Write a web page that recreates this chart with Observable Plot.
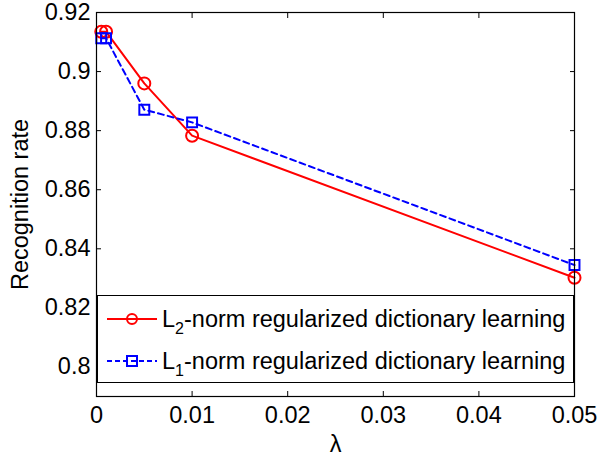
<!DOCTYPE html>
<html>
<head>
<meta charset="utf-8">
<script src="https://cdn.jsdelivr.net/npm/d3@7"></script>
<script src="https://cdn.jsdelivr.net/npm/@observablehq/plot@0.6"></script>
<style>
  html, body { margin: 0; padding: 0; background: #fff; }
  #wrap { position: relative; width: 598px; height: 455px; font-family: "Liberation Sans", Arial, sans-serif; }
  #legend { position: absolute; left: 97px; top: 295px; width: 475px; height: 86px; border: 1.5px solid #000; background: #fff; box-sizing: content-box; }
  .row { position: absolute; left: 0; height: 30px; display: flex; align-items: center; font-size: 23.5px; color: #000; white-space: nowrap; }
  .row svg { margin-left: 9px; margin-right: 5px; }
  .row sub { font-size: 16px; vertical-align: -7px; line-height: 0; }
</style>
</head>
<body>
<div id="wrap"></div>
<script>
// ---- data ----
const lambdas = [0.0005, 0.001, 0.005, 0.01, 0.05];
const l2Rates = [0.9135, 0.9135, 0.8960, 0.8783, 0.8302];
const l1Rates = [0.9113, 0.9113, 0.8871, 0.8828, 0.8345];
const seriesNames = ["L2-norm regularized dictionary learning", "L1-norm regularized dictionary learning"];
const xTicks = [0, 0.01, 0.02, 0.03, 0.04, 0.05];
const xTickLabels = ["0", "0.01", "0.02", "0.03", "0.04", "0.05"];
const yTicks = [0.8, 0.82, 0.84, 0.86, 0.88, 0.9, 0.92];
const yTickLabels = ["0.8", "0.82", "0.84", "0.86", "0.88", "0.9", "0.92"];
const xLabel = "λ";
const yLabel = "Recognition rate";

const l2 = lambdas.map((x, i) => ({x, y: l2Rates[i]}));
const l1 = lambdas.map((x, i) => ({x, y: l1Rates[i]}));
const RED = "#ff0000", BLUE = "#0000ff";

const chart = Plot.plot({
  width: 598,
  height: 455,
  marginLeft: 96,
  marginRight: 24,
  marginTop: 12,
  marginBottom: 59,
  style: {fontFamily: '"Liberation Sans", Arial, sans-serif', fontSize: "23.5px", color: "#000", background: "#fff"},
  x: {domain: [0, 0.05]},
  y: {domain: [0.79, 0.92]},
  marks: [
    Plot.line(l2, {x: "x", y: "y", stroke: RED, strokeWidth: 2}),
    Plot.dot(l2, {x: "x", y: "y", r: 6, stroke: RED, strokeWidth: 2, fill: "none"}),
    Plot.line(l1, {x: "x", y: "y", stroke: BLUE, strokeWidth: 2, strokeDasharray: "6,4"}),
    Plot.dot(l1, {x: "x", y: "y", symbol: "square", r: 5.6, stroke: BLUE, strokeWidth: 2, fill: "none"}),
    Plot.axisX(xTicks, {anchor: "bottom", tickSize: -5, tickPadding: 15, fontSize: 23.5,
      tickFormat: (d) => xTickLabels[xTicks.indexOf(d)], label: xLabel, labelAnchor: "center", labelArrow: "none", labelOffset: 55}),
    Plot.axisX(xTicks, {anchor: "top", tickSize: -5, tickFormat: () => "", label: null}),
    Plot.axisY(yTicks, {anchor: "left", tickSize: -5, tickPadding: 11, fontSize: 23.5,
      tickFormat: (d) => yTickLabels[yTicks.indexOf(d)], label: yLabel, labelAnchor: "center", labelArrow: "none", labelOffset: 85}),
    Plot.axisY(yTicks, {anchor: "right", tickSize: -5, tickFormat: () => "", label: null}),
    Plot.frame({stroke: "#000", strokeWidth: 1.2})
  ]
});

const wrap = document.getElementById("wrap");
wrap.appendChild(chart);

// legend
const legend = document.createElement("div");
legend.id = "legend";
function sample(color, dashed, square) {
  const dash = dashed ? 'stroke-dasharray="5,3"' : "";
  const marker = square
    ? `<rect x="20" y="6" width="10" height="10" fill="none" stroke="${color}" stroke-width="2"/>`
    : `<circle cx="25" cy="11" r="5" fill="none" stroke="${color}" stroke-width="2"/>`;
  return `<svg width="50" height="22"><line x1="0" y1="11" x2="50" y2="11" stroke="${color}" stroke-width="2" ${dash}/>${marker}</svg>`;
}
const rows = [
  {name: seriesNames[0], color: RED, dashed: false, square: false, top: 8},
  {name: seriesNames[1], color: BLUE, dashed: true, square: true, top: 50}
];
rows.forEach(r => {
  const div = document.createElement("div");
  div.className = "row";
  div.style.top = r.top + "px";
  const m = r.name.match(/^L(\d)(.*)$/);
  div.innerHTML = sample(r.color, r.dashed, r.square) + `<span>L<sub>${m[1]}</sub>${m[2]}</span>`;
  legend.appendChild(div);
});
wrap.appendChild(legend);
</script>
</body>
</html>
